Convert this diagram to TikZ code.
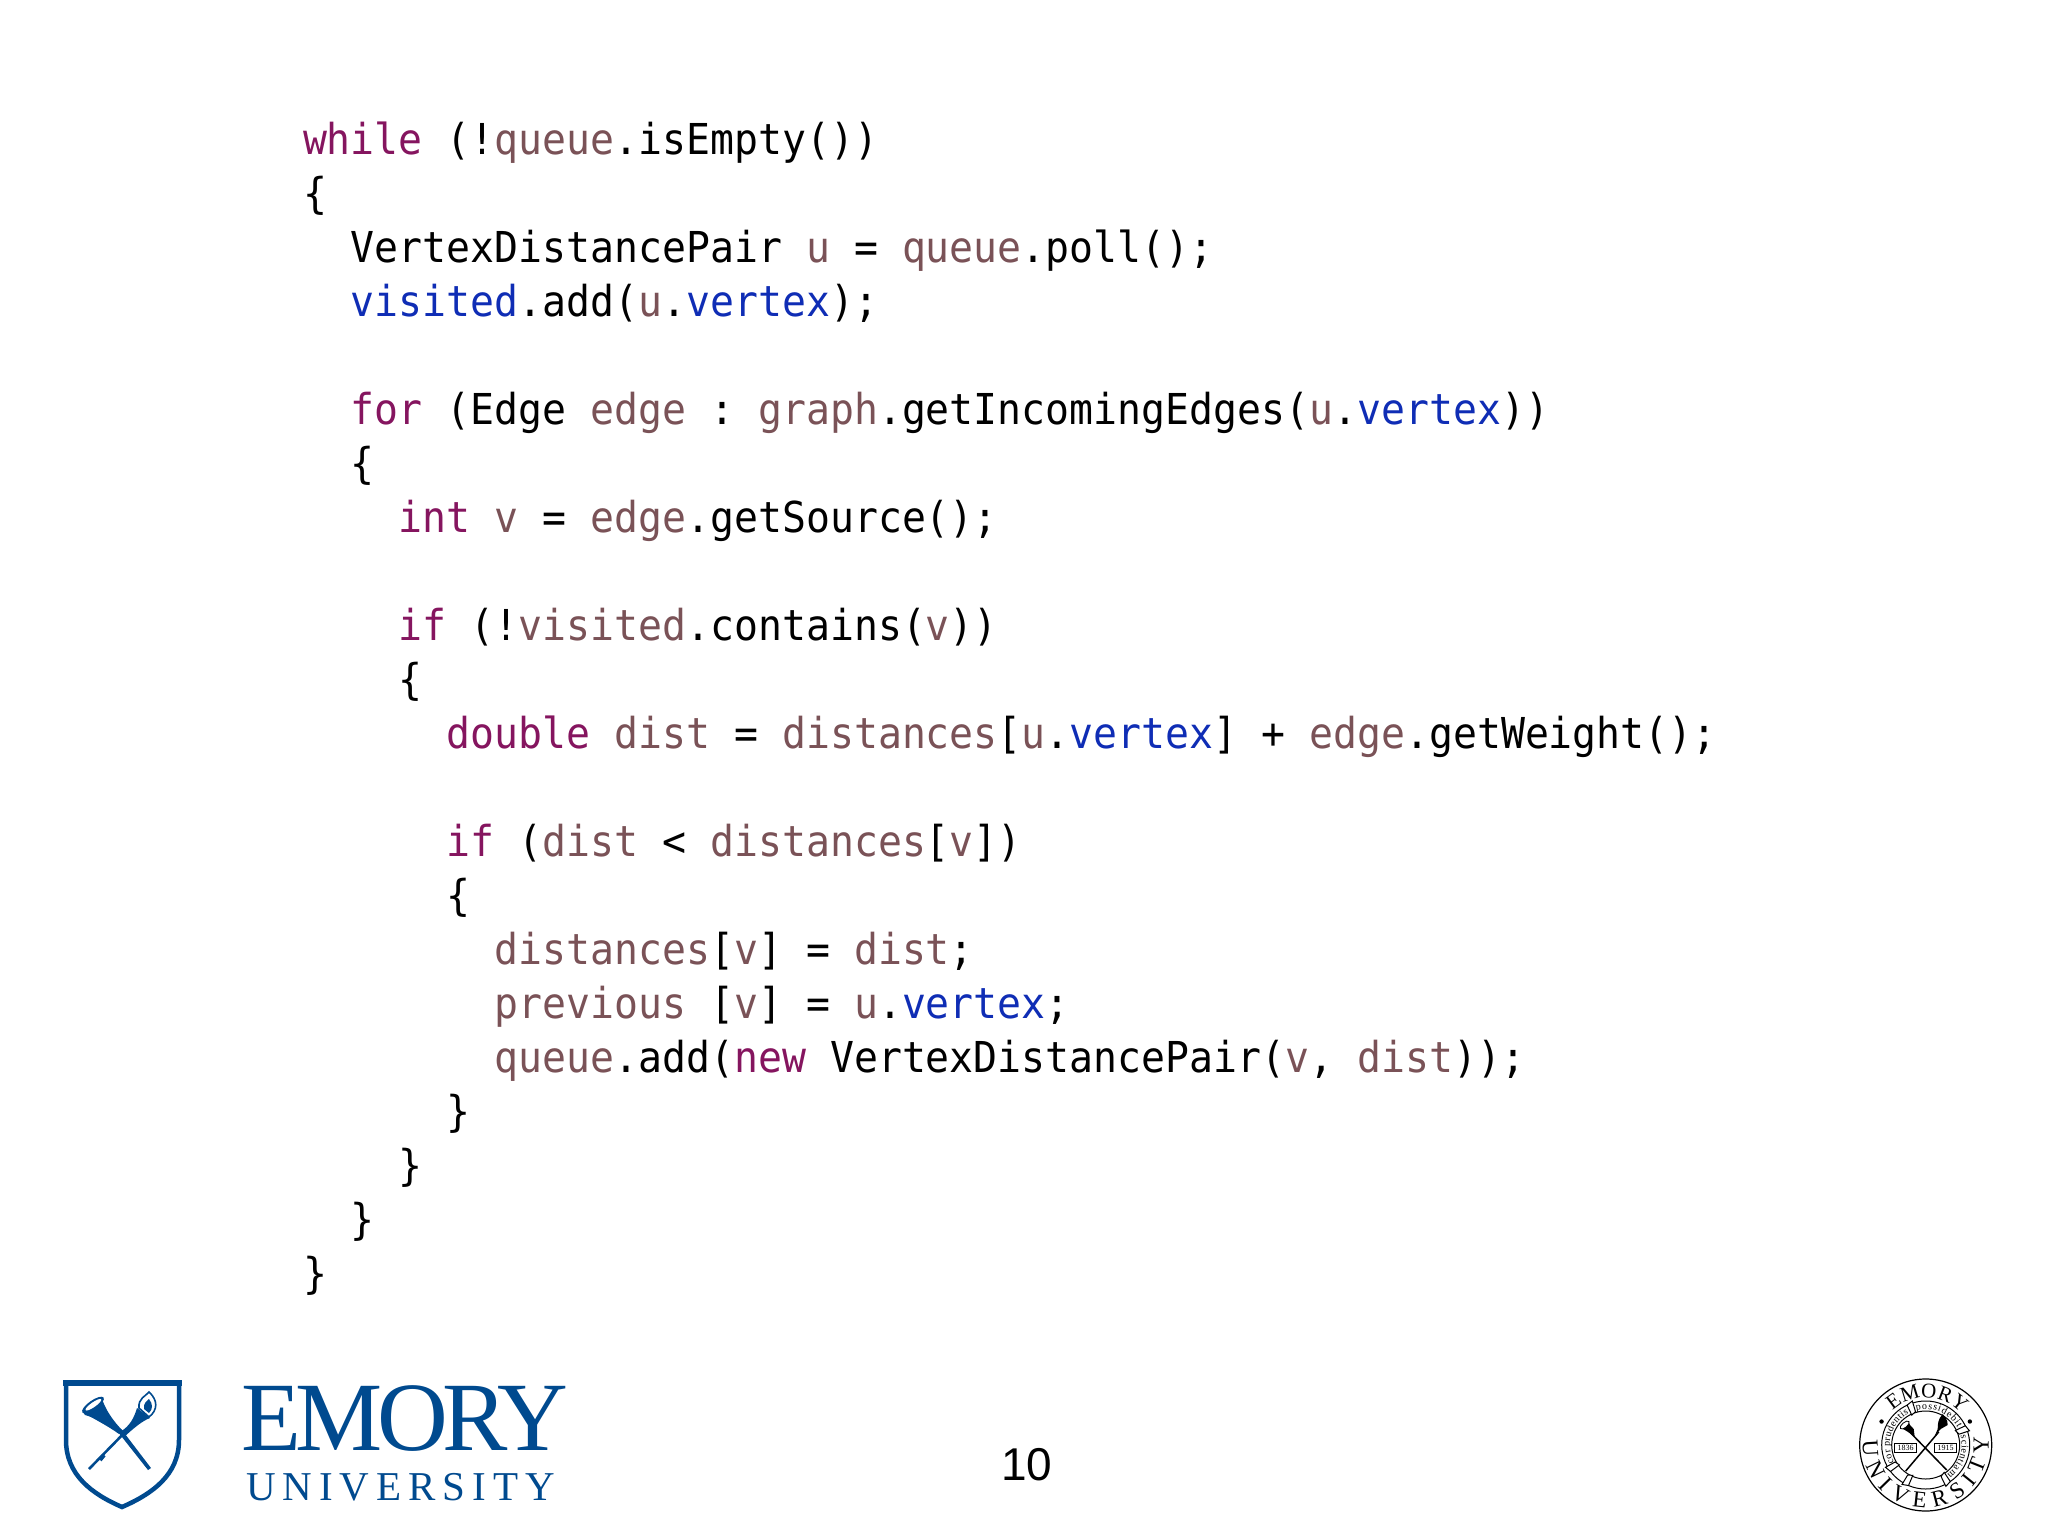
\documentclass[tikz,border=0pt]{standalone}
\usepackage{fontspec}
\usetikzlibrary{decorations.text}
\setmainfont{Liberation Serif}
\newfontfamily\codefont{DejaVu Sans Mono}
\newfontfamily\numfont{Liberation Sans}
\definecolor{kw}{HTML}{85155F}
\definecolor{vr}{HTML}{7A5257}
\definecolor{fd}{HTML}{0F2DB5}
\definecolor{emoryblue}{HTML}{004A8F}
\newcommand{\K}[1]{\textcolor{kw}{#1}}
\newcommand{\Vr}[1]{\textcolor{vr}{#1}}
\newcommand{\F}[1]{\textcolor{fd}{#1}}
\tikzset{
  codeline/.style={anchor=base west,inner sep=0pt,outer sep=0pt,font=\fontsize{39.8}{48}\selectfont\codefont,text=black},
  logotext/.style={inner sep=0pt,text=emoryblue,anchor=base west},
  sealline/.style={draw=black,line width=1pt,fill=white},
  sealtext/.style={decorate,decoration={text along path,text align={fit to path},text={#1}}},
}
\newcommand{\cl}[3]{\node[codeline] (#1) at (303,{-(154.6+54*#2)}) {\scalebox{1}[1.07]{#3}};}
\newcommand{\spc}{\hspace{0.602em}}
\newcommand{\I}[1]{\hspace{#1\dimexpr 0.602em\relax}}
\begin{document}
\begin{tikzpicture}[x=1pt,y=1pt]
\useasboundingbox (0,0) rectangle (2048,-1536);
\fill[white] (0,0) rectangle (2048,-1536);
% code
\cl{l0}{0}{\K{while}\spc(!\Vr{queue}.isEmpty())}
\cl{l1}{1}{\{}
\cl{l2}{2}{\I{2}VertexDistancePair\spc\Vr{u}\spc=\spc\Vr{queue}.poll();}
\cl{l3}{3}{\I{2}\F{visited}.add(\Vr{u}.\F{vertex});}
\cl{l5}{5}{\I{2}\K{for}\spc(Edge\spc\Vr{edge}\spc:\spc\Vr{graph}.getIncomingEdges(\Vr{u}.\F{vertex}))}
\cl{l6}{6}{\I{2}\{}
\cl{l7}{7}{\I{4}\K{int}\spc\Vr{v}\spc=\spc\Vr{edge}.getSource();}
\cl{l9}{9}{\I{4}\K{if}\spc(!\Vr{visited}.contains(\Vr{v}))}
\cl{l10}{10}{\I{4}\{}
\cl{l11}{11}{\I{6}\K{double}\spc\Vr{dist}\spc=\spc\Vr{distances}[\Vr{u}.\F{vertex}]\spc+\spc\Vr{edge}.getWeight();}
\cl{l13}{13}{\I{6}\K{if}\spc(\Vr{dist}\spc<\spc\Vr{distances}[\Vr{v}])}
\cl{l14}{14}{\I{6}\{}
\cl{l15}{15}{\I{8}\Vr{distances}[\Vr{v}]\spc=\spc\Vr{dist};}
\cl{l16}{16}{\I{8}\Vr{previous}\spc[\Vr{v}]\spc=\spc\Vr{u}.\F{vertex};}
\cl{l17}{17}{\I{8}\Vr{queue}.add(\K{new}\spc VertexDistancePair(\Vr{v},\spc\Vr{dist}));}
\cl{l18}{18}{\I{6}\}}
\cl{l19}{19}{\I{4}\}}
\cl{l20}{20}{\I{2}\}}
\cl{l21}{21}{\}}
% page number
\node[inner sep=0pt,anchor=base west,font=\fontsize{46}{50}\selectfont\numfont] (pagenum) at (1001,-1480) {10};
% logo wordmark
\node[logotext,font=\fontsize{98}{104}\selectfont] (emory) at (241,-1450) {\addfontfeature{LetterSpace=-5.5}EMORY};
\node[logotext,font=\fontsize{41}{46}\selectfont] (univ) at (246,-1500) {\addfontfeature{LetterSpace=17}UNIVERSITY};
% shield
\draw[emoryblue,line width=4.5pt,line join=miter,fill=white]
  (66,-1383) -- (179,-1383) -- (179,-1440)
  .. controls (179,-1475) and (152,-1494) .. (122,-1507)
  .. controls (92,-1494) and (66,-1475) .. (66,-1440) -- cycle;
\fill[emoryblue] (63,-1380) rectangle (181.5,-1386);
% horn and torch in shield
\begin{scope}[emoryblue]
  % torch staff
  \draw[line width=2.6pt] (89,-1469) -- (132,-1425);
  \draw[line width=4pt] (100,-1460) -- (104,-1455);
  \fill (120,-1432) .. controls (130,-1426) and (134,-1418) .. (137,-1408)
     -- (150,-1418) .. controls (142,-1421) and (134,-1428) .. (124,-1437) -- cycle;
  \draw[line width=1.6pt,fill=white] (139,-1408) .. controls (138,-1398) and (146,-1396) .. (149,-1392)
     .. controls (158,-1400) and (158,-1410) .. (149,-1417) -- cycle;
  \fill (144,-1409) .. controls (143,-1403) and (147,-1401) .. (149,-1399)
     .. controls (153,-1404) and (153,-1409) .. (149,-1413) -- cycle;
  % horn
  \fill (83,-1412) .. controls (97,-1412) and (105,-1418) .. (122,-1430)
     -- (151,-1468) -- (148,-1470) -- (118,-1432)
     .. controls (108,-1424) and (96,-1418) .. (85,-1415) -- cycle;
  \fill (102,-1399) .. controls (106,-1410) and (112,-1420) .. (124,-1432)
     -- (119,-1434) .. controls (108,-1426) and (96,-1420) .. (84,-1413) -- cycle;
  \fill[rotate around={35:(93,-1405)}] (93,-1405) ellipse (13pt and 4.5pt);
\end{scope}
\fill[white,rotate around={35:(93,-1405)}] (93.5,-1405) ellipse (9.5pt and 2.4pt);
% seal
\begin{scope}[shift={(1925.7,-1445)}]
  \draw[line width=1.2pt] (0,0) circle (66);
  \path[sealtext={|\fontsize{21}{21}\selectfont|EMORY}]
    (134:47.5) arc[start angle=134,end angle=42,radius=47.5];
  \path[sealtext={|\fontsize{23}{23}\selectfont|UNIVERSITY}]
    (176:63) arc[start angle=176,end angle=367,radius=63];
  \fill (152:50) circle (2.2);
  \fill (28:50) circle (2.2);
  % scroll band
  \draw[line width=1pt] (0,0) circle (34);
  \draw[line width=1pt] (0,0) circle (44);
  \foreach \a in {111,22,-60,-117,-147}{
    \draw[sealline] (\a+4:33) -- (\a+4:44) -- (\a-4:46) -- (\a-4:35) -- cycle;
  }
  \path[sealtext={|\fontsize{10}{10}\selectfont|possidebit}]
    (105:36) arc[start angle=105,end angle=28,radius=36];
  \path[sealtext={|\fontsize{10}{10}\selectfont|scientiam}]
    (15:36) arc[start angle=15,end angle=-54,radius=36];
  \path[sealtext={|\fontsize{10}{10}\selectfont|cor prudentis}]
    (209:36) arc[start angle=209,end angle=118,radius=36];
  % horn and torch
  \draw[line width=1.5pt] (-15,12) -- (21,-25);
  \draw[line width=1.5pt] (13,13) -- (-20,-26);
  \fill (-25,17) .. controls (-20,15) and (-16,12) .. (-11,8) -- (-12,16) .. controls (-15,18) and (-16,21) .. (-18,24) -- cycle;
  \fill[white,draw=black,line width=.8pt,rotate around={40:(-21,20)}] (-21,20) ellipse (5.5 and 2.5);
  \fill (9,9) -- (15,16) -- (22,20) .. controls (22,26) and (19,28) .. (17,31) .. controls (12,26) and (12,20) .. (12,16) -- cycle;
  % year ribbons
  \draw[sealline,line width=.8pt] (-31,2) -- (-9,2) -- (-9,-7) -- (-31,-7) -- cycle;
  \draw[sealline,line width=.8pt] (9,2) -- (31,2) -- (31,-7) -- (9,-7) -- cycle;
  \node[inner sep=0pt,font=\fontsize{8}{8}\selectfont] (y1) at (-20,-2.5) {1836};
  \node[inner sep=0pt,font=\fontsize{8}{8}\selectfont] (y2) at (20,-2.5) {1915};
\end{scope}
\end{tikzpicture}
\end{document}
